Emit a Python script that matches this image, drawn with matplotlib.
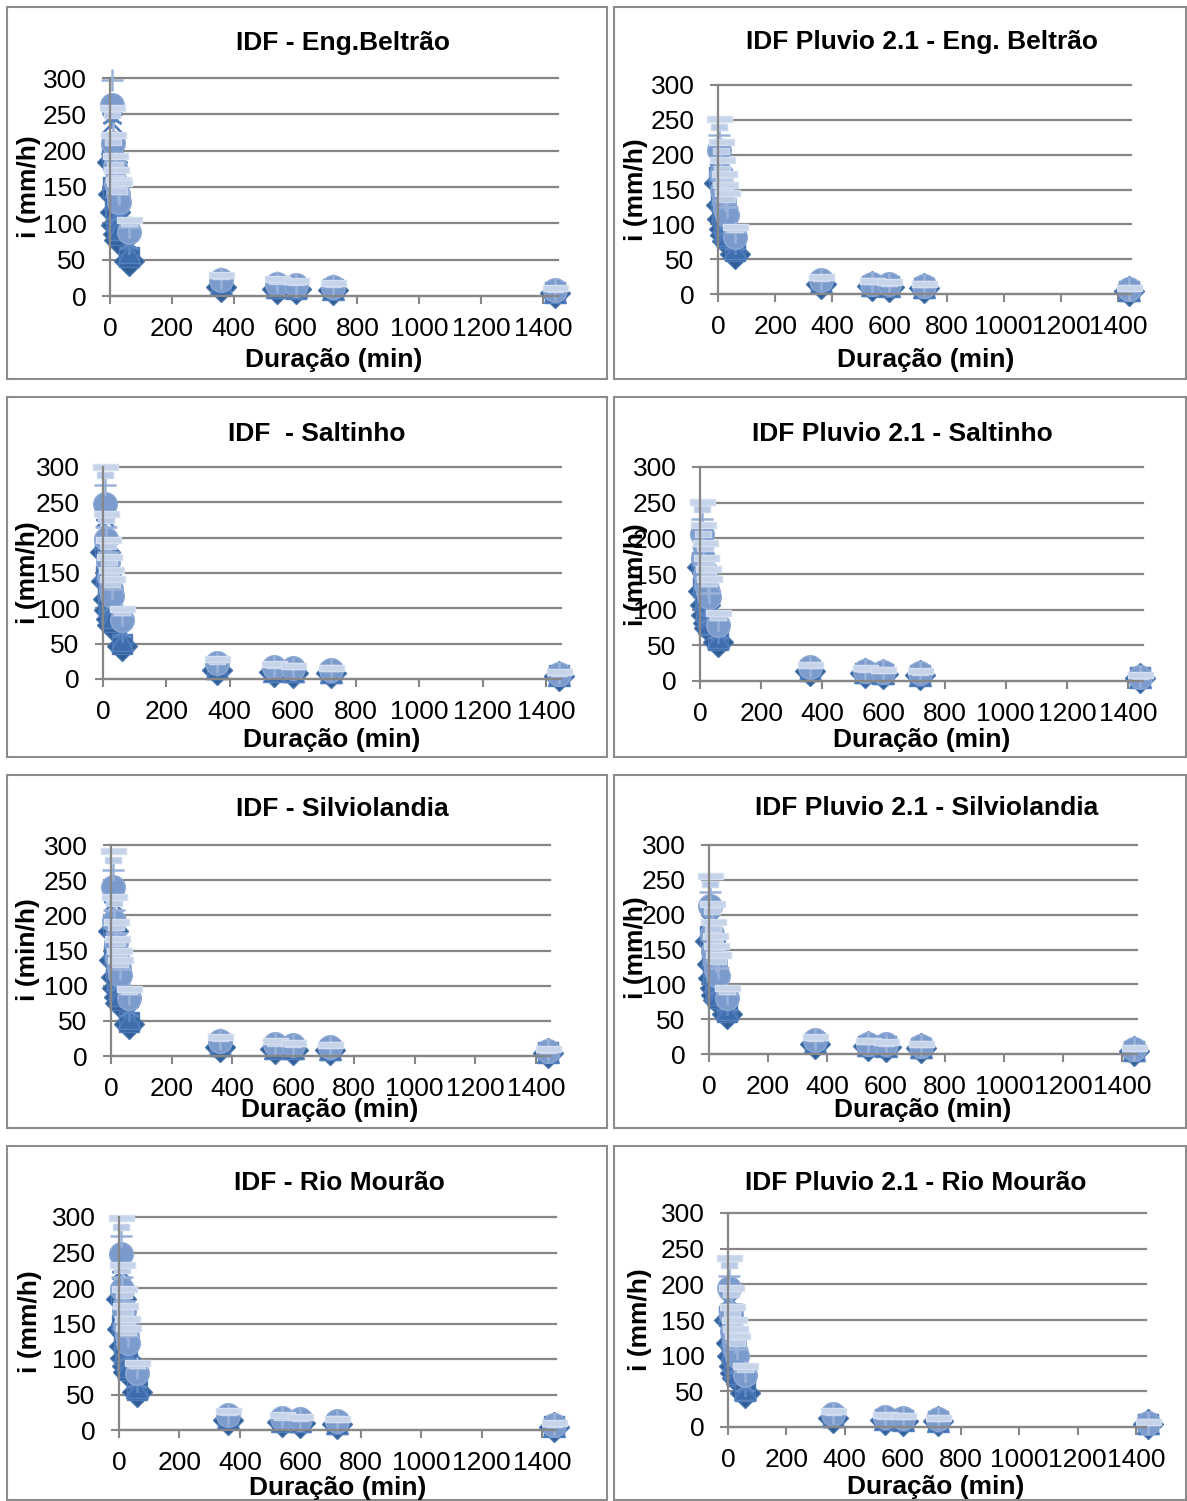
import matplotlib
matplotlib.use("Agg")
import matplotlib.pyplot as plt
from matplotlib.patches import Rectangle

plt.rcParams['font.family'] = ['Liberation Sans', 'DejaVu Sans']

W, H = 1187, 1501

# durations (min) shared by every chart
durations = [5, 10, 15, 20, 25, 30, 60, 360, 540, 600, 720, 1440]

# intensities (mm/h), one row per series
beltrao_idf = [
    [185, 140, 115, 98, 86, 77, 48, 13, 10, 9, 8, 4],
    [195, 150, 124, 106, 94, 84, 54, 15, 11, 10, 9, 5],
    [210, 163, 135, 116, 103, 92, 60, 17, 13, 12, 10, 6],
    [238, 185, 153, 132, 117, 105, 68, 19, 14, 13, 11, 6],
    [245, 192, 160, 138, 122, 110, 72, 20, 15, 14, 12, 7],
    [263, 210, 178, 155, 140, 130, 88, 22, 17, 15, 13, 8],
    [297, 225, 185, 160, 143, 140, 95, 25, 19, 17, 15, 9],
    [249, 212, 180, 163, 150, 145, 100, 27, 21, 19, 16, 10],
    [259, 222, 192, 174, 160, 156, 105, 29, 23, 21, 18, 11],
]
beltrao_pluvio = [
    [160, 128, 108, 94, 84, 76, 58, 15, 11, 10, 9, 5],
    [168, 135, 114, 99, 88, 80, 62, 16, 12, 11, 9, 5],
    [178, 143, 120, 105, 93, 85, 66, 17, 13, 12, 10, 6],
    [185, 148, 125, 109, 97, 88, 69, 18, 14, 12, 11, 6],
    [192, 154, 130, 113, 101, 92, 72, 19, 14, 13, 11, 6],
    [207, 172, 150, 134, 122, 113, 82, 20, 15, 14, 12, 7],
    [228, 190, 165, 148, 135, 125, 89, 22, 17, 15, 13, 7],
    [240, 205, 180, 162, 148, 137, 93, 23, 18, 16, 14, 8],
    [251, 218, 192, 172, 156, 145, 96, 24, 18, 17, 14, 8],
]
saltinho_idf = [
    [180, 138, 113, 97, 85, 76, 46, 13, 10, 9, 8, 4],
    [188, 146, 120, 103, 90, 81, 50, 14, 11, 10, 9, 5],
    [200, 157, 130, 112, 98, 88, 55, 16, 12, 11, 10, 5],
    [228, 178, 147, 126, 111, 100, 62, 18, 14, 13, 11, 6],
    [232, 183, 152, 131, 116, 104, 66, 19, 15, 13, 12, 6],
    [247, 198, 166, 144, 128, 118, 83, 22, 17, 15, 13, 7],
    [275, 215, 180, 157, 140, 128, 90, 24, 18, 16, 14, 8],
    [288, 225, 188, 165, 147, 135, 95, 26, 20, 18, 15, 9],
    [300, 233, 196, 172, 154, 142, 99, 28, 21, 19, 16, 10],
]
saltinho_pluvio = [
    [160, 126, 106, 92, 82, 74, 55, 14, 11, 10, 8, 4],
    [167, 132, 111, 97, 86, 78, 58, 15, 11, 10, 9, 5],
    [176, 139, 117, 102, 91, 82, 61, 16, 12, 11, 9, 5],
    [185, 146, 123, 107, 95, 86, 64, 17, 13, 12, 10, 5],
    [192, 152, 128, 111, 99, 89, 67, 17, 13, 12, 10, 6],
    [206, 172, 150, 135, 125, 118, 79, 19, 14, 13, 11, 6],
    [227, 188, 163, 146, 133, 124, 86, 21, 16, 15, 12, 7],
    [241, 206, 186, 165, 150, 138, 90, 22, 17, 15, 13, 7],
    [251, 218, 193, 172, 157, 143, 95, 23, 18, 16, 14, 8],
]
silviolandia_idf = [
    [178, 136, 112, 96, 84, 75, 45, 13, 10, 9, 8, 4],
    [186, 144, 119, 102, 89, 80, 49, 14, 11, 10, 9, 5],
    [198, 155, 128, 110, 97, 87, 54, 16, 12, 11, 10, 5],
    [219, 172, 143, 123, 108, 97, 60, 18, 14, 12, 11, 6],
    [226, 178, 148, 128, 113, 101, 64, 19, 14, 13, 12, 6],
    [240, 192, 161, 140, 125, 115, 82, 22, 17, 15, 13, 7],
    [265, 208, 175, 152, 136, 124, 88, 24, 18, 16, 14, 8],
    [279, 218, 183, 160, 143, 131, 92, 26, 19, 17, 15, 9],
    [291, 226, 190, 167, 149, 137, 95, 27, 21, 19, 16, 10],
]
silviolandia_pluvio = [
    [162, 129, 109, 95, 85, 77, 58, 15, 11, 10, 9, 5],
    [170, 136, 115, 100, 89, 81, 61, 16, 12, 11, 9, 5],
    [180, 144, 121, 106, 94, 86, 64, 17, 13, 12, 10, 6],
    [188, 150, 127, 110, 98, 89, 67, 18, 14, 12, 11, 6],
    [195, 156, 132, 115, 102, 93, 70, 19, 14, 13, 11, 6],
    [212, 172, 148, 132, 120, 112, 80, 20, 15, 14, 12, 7],
    [232, 192, 166, 148, 134, 123, 86, 22, 17, 15, 13, 7],
    [244, 205, 180, 160, 146, 134, 91, 23, 18, 16, 14, 8],
    [255, 216, 190, 170, 155, 142, 95, 24, 18, 17, 14, 8],
]
mourao_idf = [
    [185, 142, 118, 102, 90, 81, 53, 14, 11, 10, 9, 4],
    [192, 148, 123, 106, 94, 85, 56, 15, 12, 11, 9, 5],
    [205, 158, 131, 113, 100, 90, 60, 17, 13, 12, 10, 5],
    [225, 174, 145, 125, 111, 100, 65, 18, 14, 13, 11, 6],
    [230, 180, 150, 130, 115, 104, 68, 19, 15, 13, 12, 6],
    [248, 198, 167, 146, 132, 123, 80, 21, 17, 15, 13, 7],
    [273, 216, 182, 159, 143, 132, 87, 23, 18, 16, 14, 8],
    [286, 225, 190, 166, 150, 138, 92, 25, 19, 17, 15, 9],
    [298, 232, 199, 175, 156, 144, 95, 27, 21, 19, 16, 10],
]
mourao_pluvio = [
    [150, 118, 99, 86, 76, 69, 48, 13, 10, 9, 8, 4],
    [156, 123, 103, 90, 80, 72, 50, 14, 11, 10, 8, 4],
    [164, 129, 108, 94, 84, 76, 53, 15, 11, 10, 9, 5],
    [172, 136, 114, 99, 88, 80, 56, 16, 12, 11, 9, 5],
    [178, 141, 118, 103, 92, 83, 58, 16, 12, 11, 10, 5],
    [195, 158, 134, 118, 108, 100, 73, 18, 14, 13, 11, 6],
    [212, 173, 148, 131, 119, 110, 79, 20, 15, 14, 12, 6],
    [227, 186, 160, 142, 129, 118, 82, 21, 16, 15, 13, 7],
    [237, 195, 168, 150, 137, 128, 85, 22, 17, 16, 13, 7],
]

titles = ["IDF - Eng.Beltrão", "IDF Pluvio 2.1 - Eng. Beltrão",
          "IDF  - Saltinho", "IDF Pluvio 2.1 - Saltinho",
          "IDF - Silviolandia", "IDF Pluvio 2.1 - Silviolandia",
          "IDF - Rio Mourão", "IDF Pluvio 2.1 - Rio Mourão"]
ylabels = ["i (mm/h)", "i (mm/h)", "i (mm/h)", "i (mm/h)",
           "i (min/h)", "i (mm/h)", "i (mm/h)", "i (mm/h)"]
xlabel = "Duração (min)"
tables = [beltrao_idf, beltrao_pluvio, saltinho_idf, saltinho_pluvio,
          silviolandia_idf, silviolandia_pluvio, mourao_idf, mourao_pluvio]

# Excel style markers, dark to light blue
long_dash = [(-1, -0.22), (1, -0.22), (1, 0.22), (-1, 0.22), (-1, -0.22)]
short_dash = [(-1, -0.4), (1, -0.4), (1, 0.4), (-1, 0.4), (-1, -0.4)]
styles = [
    dict(marker='D', ms=15, mfc='#2F5C94', mec='#4A76B0', mew=1),
    dict(marker='s', ms=15, mfc='#3563A0', mec='#4F7CB8', mew=1),
    dict(marker='^', ms=16, mfc='#3D6DAD', mec='#5683BF', mew=1),
    dict(marker='x', ms=13, mfc='#4A78B8', mec='#4A78B8', mew=1.8),
    dict(marker=(6, 2, 0), ms=15, mfc='#5C86C2', mec='#5C86C2', mew=1.8),
    dict(marker='o', ms=17, mfc='#7C9BCD', mec='#8CA8D4', mew=1),
    dict(marker='+', ms=16, mfc='#9AB2D9', mec='#9AB2D9', mew=1.8),
    dict(marker=short_dash, ms=11, mfc='#BACBE6', mec='#C9D6EC', mew=1),
    dict(marker=long_dash, ms=18, mfc='#C6D4EA', mec='#D3DEEF', mew=1),
]

# pixel layout: x of 0 min, x of 1400 min, right end of grid, y of 0, y of 300
layout = [(110, 543, 558, 296, 78), (718, 1118, 1131, 294, 85),
          (103, 546, 561, 679, 467), (700, 1128, 1143, 681, 467),
          (111, 536, 550, 1056, 845), (709, 1122, 1137, 1054, 845),
          (119, 542, 556, 1430, 1217), (728, 1136, 1146, 1427, 1213)]
title_pos = [(343, 43), (922, 42), (317, 434), (902, 434),
             (342, 809), (927, 808), (339, 1183), (916, 1183)]
ylabel_pos = [(29, 187), (636, 190), (28, 573), (636, 575),
              (28, 950), (636, 948), (30, 1322), (640, 1320)]
xlabel_pos = [(334, 360), (926, 360), (332, 740), (922, 740),
              (330, 1110), (923, 1110), (338, 1488), (936, 1487)]
box_cols = [(7, 607), (614, 1186)]
box_rows = [(7, 379), (397, 757), (775, 1128), (1146, 1500)]

grey = '#868686'

fig = plt.figure(figsize=(W / 100, H / 100), dpi=100)

# chart borders
for top, bottom in box_rows:
    for left, right in box_cols:
        fig.patches.append(Rectangle((left / W, 1 - bottom / H), (right - left) / W,
                                     (bottom - top) / H, transform=fig.transFigure,
                                     fill=False, edgecolor='#8C8C8C', lw=1.5))

for k in range(8):
    x0, x1400, xend, y0, y300 = layout[k]
    ppm = (x1400 - x0) / 1400.0
    ax = fig.add_axes([x0 / W, 1 - y0 / H, (xend - x0) / W, (y0 - y300) / H])
    ax.set_xlim(0, (xend - x0) / ppm)
    ax.set_ylim(0, 300)
    ax.set_xticks(range(0, 1401, 200))
    ax.set_yticks(range(0, 301, 50))
    ax.grid(axis='y', color=grey, lw=1.6)
    for gl in ax.get_ygridlines():
        gl.set_clip_on(False)
    ax.set_axisbelow(True)
    for side in ['top', 'right']:
        ax.spines[side].set_visible(False)
    for side in ['left', 'bottom']:
        ax.spines[side].set_color(grey)
        ax.spines[side].set_linewidth(1.6)
    ax.tick_params(axis='both', direction='out', length=6, width=1.5, color=grey,
                   labelsize=19)
    ax.tick_params(axis='y', pad=11)
    ax.tick_params(axis='x', pad=9)

    for vals, st in zip(tables[k], styles):
        ax.plot(durations, vals, linestyle='none', clip_on=False, **st)

    tx, ty = title_pos[k]
    fig.text(tx / W, 1 - ty / H, titles[k], ha='center', va='center',
             fontsize=19, fontweight='bold')
    lx, ly = ylabel_pos[k]
    fig.text(lx / W, 1 - ly / H, ylabels[k], ha='center', va='center',
             rotation=90, fontsize=19, fontweight='bold')
    bx, by = xlabel_pos[k]
    fig.text(bx / W, 1 - by / H, xlabel, ha='center', va='center',
             fontsize=19, fontweight='bold')

fig.savefig("out.png", dpi=100)
